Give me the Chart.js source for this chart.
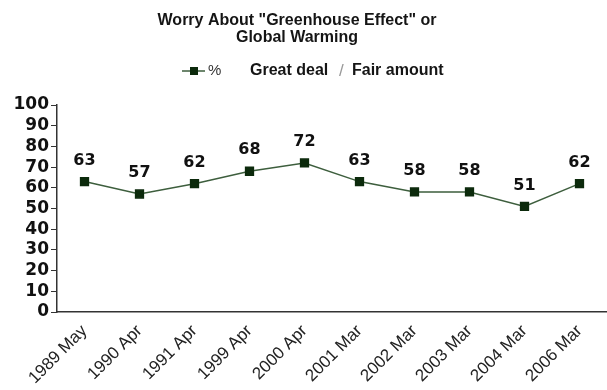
<!DOCTYPE html>
<html>
<head>
<meta charset="utf-8">
<script src="https://cdn.jsdelivr.net/npm/chart.js@4/dist/chart.umd.min.js"></script>
<style>
  html, body { margin: 0; padding: 0; background: #fff; overflow: hidden; }
  #wrap { width: 614px; height: 390px; position: relative; }
</style>
</head>
<body>
<div id="wrap"><canvas id="lineChart"></canvas></div>
<script>
let surveyDates = ["1989 May", "1990 Apr", "1991 Apr", "1999 Apr", "2000 Apr", "2001 Mar", "2002 Mar", "2003 Mar", "2004 Mar", "2006 Mar"];
let worryPct = [63, 57, 62, 68, 72, 63, 58, 58, 51, 62];
let titleLines = ['Worry About "Greenhouse Effect" or', 'Global Warming'];
let legendSymbol = "%";
let legendParts = ["Great deal", "/", "Fair amount"];

let ctx = document.getElementById('lineChart').getContext('2d');
const lineColor = '#3d5e3d';
const markColor = '#0c2a0c';
const fontFam = '"Liberation Sans", Arial, sans-serif';
const wideFam = '"DejaVu Sans", sans-serif';

//title, legend and the numbers above the points
const extras = {
    id: 'extras',
    afterDatasetsDraw(chart) {
        let c = chart.ctx;
        let meta = chart.getDatasetMeta(0);
        c.save();
        c.fillStyle = '#111';
        c.font = 'bold 16px ' + wideFam;
        c.textAlign = 'center';
        c.textBaseline = 'middle';
        meta.data.forEach((pt, i) => {
            c.fillText(String(worryPct[i]), pt.x, pt.y - 21);
        });

        //title
        c.font = 'bold 16px ' + fontFam;
        c.fillStyle = '#151515';
        c.fillText(titleLines[0], 297, 21);
        c.fillText(titleLines[1], 297, 38);

        //legend
        let y = 71;
        c.strokeStyle = lineColor;
        c.lineWidth = 1.5;
        c.beginPath();
        c.moveTo(182, y);
        c.lineTo(205, y);
        c.stroke();
        c.fillStyle = markColor;
        c.fillRect(190, y - 4, 8, 8);
        c.textAlign = 'left';
        c.fillStyle = '#333';
        c.font = '15px ' + fontFam;
        c.fillText(legendSymbol, 208, y);
        c.fillStyle = '#151515';
        c.font = 'bold 16px ' + fontFam;
        c.fillText(legendParts[0], 250, y);
        c.fillStyle = '#999';
        c.font = '17px ' + fontFam;
        c.fillText(legendParts[1], 339, y);
        c.fillStyle = '#151515';
        c.font = 'bold 16px ' + fontFam;
        c.fillText(legendParts[2], 352, y);
        c.restore();
    }
};

var data = {
    labels: surveyDates,
    datasets: [
        {
            label: legendSymbol,
            data: worryPct,
            borderColor: lineColor,
            borderWidth: 1.5,
            backgroundColor: markColor,
            pointBackgroundColor: markColor,
            pointBorderColor: markColor,
            pointStyle: 'rect',
            pointRadius: 5.5,
            tension: 0
        }
    ]
};

var options = {
    responsive: true,
    maintainAspectRatio: false,
    animation: false,
    layout: {
        padding: { top: 105, right: 0, left: 4, bottom: 0 }
    },
    plugins: {
        legend: { display: false },
        tooltip: { enabled: false },
        title: { display: false }
    },
    scales: {
        x: {
            offset: true,
            grid: { display: false, drawTicks: true, tickLength: 6 },
            border: { display: true, color: '#333', width: 1.5 },
            ticks: {
                color: '#222',
                font: { family: fontFam, size: 17 },
                minRotation: 45,
                maxRotation: 45,
                autoSkip: false,
                padding: 3
            },
            afterFit(axis) {
                axis.height = 78;
            }
        },
        y: {
            min: 0,
            max: 100,
            grid: {
                display: true,
                drawOnChartArea: false,
                drawTicks: true,
                tickLength: 6,
                color: '#333'
            },
            border: { display: true, color: '#333', width: 1.5 },
            ticks: {
                stepSize: 10,
                autoSkip: false,
                color: '#111',
                padding: 2,
                font: { family: wideFam, size: 17, weight: 'bold' }
            },
            afterFit(axis) { axis.width = 53; }
        }
    }
};

let chart = new Chart(ctx, {
    type: 'line',
    data: data,
    options: options,
    plugins: [extras]
});
</script>
</body>
</html>
